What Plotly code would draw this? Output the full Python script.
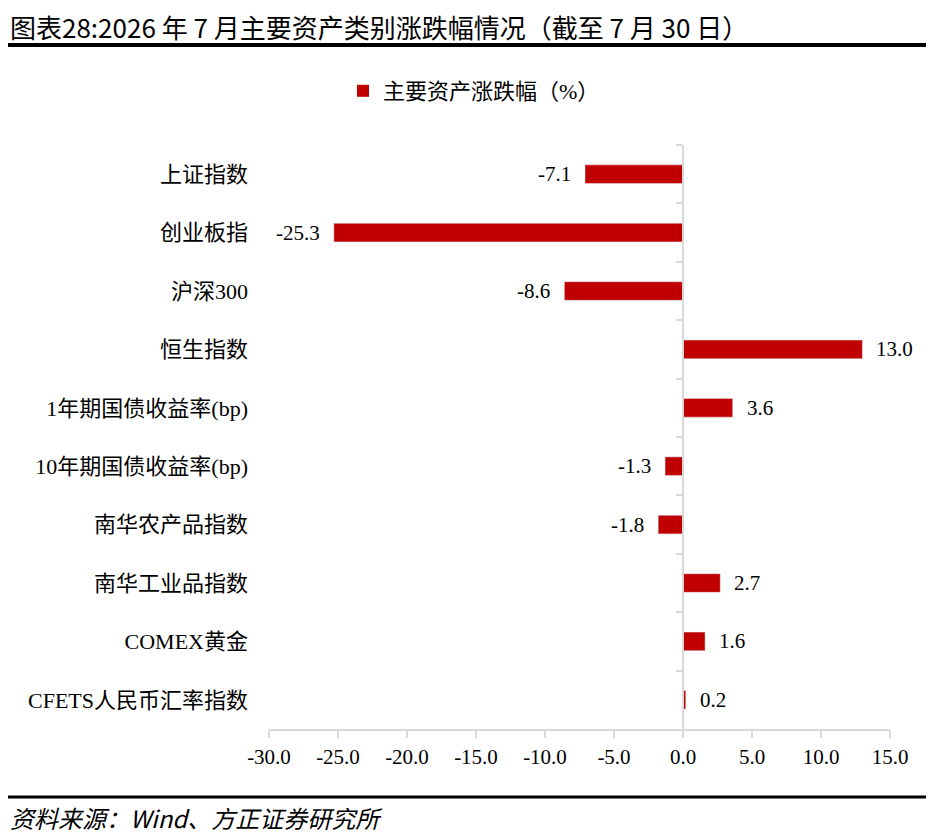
import plotly.graph_objects as go

# data
categories = ["上证指数", "创业板指", "沪深300", "恒生指数", "1年期国债收益率(bp)",
              "10年期国债收益率(bp)", "南华农产品指数", "南华工业品指数", "COMEX黄金",
              "CFETS人民币汇率指数"]
changes = [-7.1, -25.3, -8.6, 13.0, 3.6, -1.3, -1.8, 2.7, 1.6, 0.2]
series_name = "主要资产涨跌幅（%）"
x_ticks = [-30, -25, -20, -15, -10, -5, 0, 5, 10, 15]

title_text = "图表28:2026 年 7 月主要资产类别涨跌幅情况（截至 7 月 30 日）"
source_text = "资料来源：Wind、方正证券研究所"

# the page has an 8px body margin, so the figure is drawn 8px smaller
OFF = 8
W, H = 934 - OFF, 839 - OFF
L, R, T, B = 269 - OFF, 44, 145 - OFF, 110
FONT = "Liberation Serif, Noto Sans CJK SC, serif"
CJK = "Noto Sans CJK SC, Liberation Serif"
RED = "#C00000"
GREY = "#D9D9D9"


# reference pixel -> paper coordinate
def px_x(px):
    return (px - OFF - L) / (W - L - R)


def px_y(py):
    return (H - B - (py - OFF)) / (H - T - B)


fig = go.Figure()

fig.add_trace(go.Bar(
    x=changes, y=categories, orientation="h", name=series_name,
    marker=dict(color=RED, line=dict(width=0)),
    width=0.32, showlegend=True,
))

# invisible copy to carry the free y axis that sits on x = 0
fig.add_trace(go.Bar(
    x=changes, y=categories, orientation="h", yaxis="y2",
    marker=dict(color="rgba(0,0,0,0)"), width=0.32, showlegend=False,
    hoverinfo="skip",
))

annotations = []
for c, v in zip(categories, changes):
    annotations.append(dict(
        x=v, y=c, xref="x", yref="y", text=f"{v:.1f}", showarrow=False,
        xanchor="left" if v >= 0 else "right",
        xshift=12 if v >= 0 else -12,
        font=dict(family=FONT, size=21, color="#000000"),
    ))

annotations.append(dict(
    x=px_x(8), y=px_y(817), xref="paper", yref="paper",
    text="<i>" + source_text + "</i>",
    showarrow=False, xanchor="left", yanchor="middle",
    font=dict(family=CJK, size=24, color="#000000"),
))

annotations.append(dict(
    x=px_x(8), y=px_y(27), xref="paper", yref="paper", text=title_text,
    showarrow=False, xanchor="left", yanchor="middle",
    font=dict(family=CJK, size=26, color="#000000"),
))

shapes = [
    dict(type="line", xref="paper", yref="paper",
         x0=px_x(5), x1=px_x(934), y0=px_y(45), y1=px_y(45),
         line=dict(color="#000000", width=4)),
    dict(type="line", xref="paper", yref="paper",
         x0=px_x(5), x1=px_x(934), y0=px_y(797), y1=px_y(797),
         line=dict(color="#000000", width=3)),
]

fig.update_layout(
    width=W, height=H,
    margin=dict(l=L, r=R, t=T, b=B),
    paper_bgcolor="white", plot_bgcolor="white",
    font=dict(family=FONT, size=21, color="#000000"),
    barmode="overlay",
    xaxis=dict(
        range=[-30, 15], tickvals=x_ticks,
        ticktext=[f"{v:.1f}" for v in x_ticks],
        showgrid=False, zeroline=False,
        showline=True, linecolor=GREY, linewidth=2,
        ticks="outside", ticklen=7, tickcolor=GREY, tickwidth=2,
        ticklabelstandoff=1,
        tickfont=dict(family=FONT, size=21, color="#000000"),
    ),
    yaxis=dict(
        type="category", categoryorder="array", categoryarray=categories,
        autorange="reversed", showgrid=False, zeroline=False, showline=False,
        ticks="", ticklabelstandoff=20,
        tickfont=dict(family=FONT, size=22, color="#000000"),
    ),
    yaxis2=dict(
        type="category", categoryorder="array", categoryarray=categories,
        autorange="reversed", overlaying="y", anchor="free",
        position=30 / 45, side="left",
        showgrid=False, zeroline=False, showline=True, linecolor=GREY,
        linewidth=2, ticks="outside", tickson="boundaries", ticklen=6,
        tickcolor=GREY, tickwidth=2, showticklabels=False,
    ),
    legend=dict(
        orientation="h", xref="container", yref="container",
        x=(474 - OFF) / W, y=1 - (91 - OFF) / H,
        xanchor="center", yanchor="middle",
        font=dict(family=FONT, size=22, color="#000000"),
        bgcolor="rgba(0,0,0,0)", itemwidth=30,
    ),
    annotations=annotations,
    shapes=shapes,
)

fig.write_html("out.html")
